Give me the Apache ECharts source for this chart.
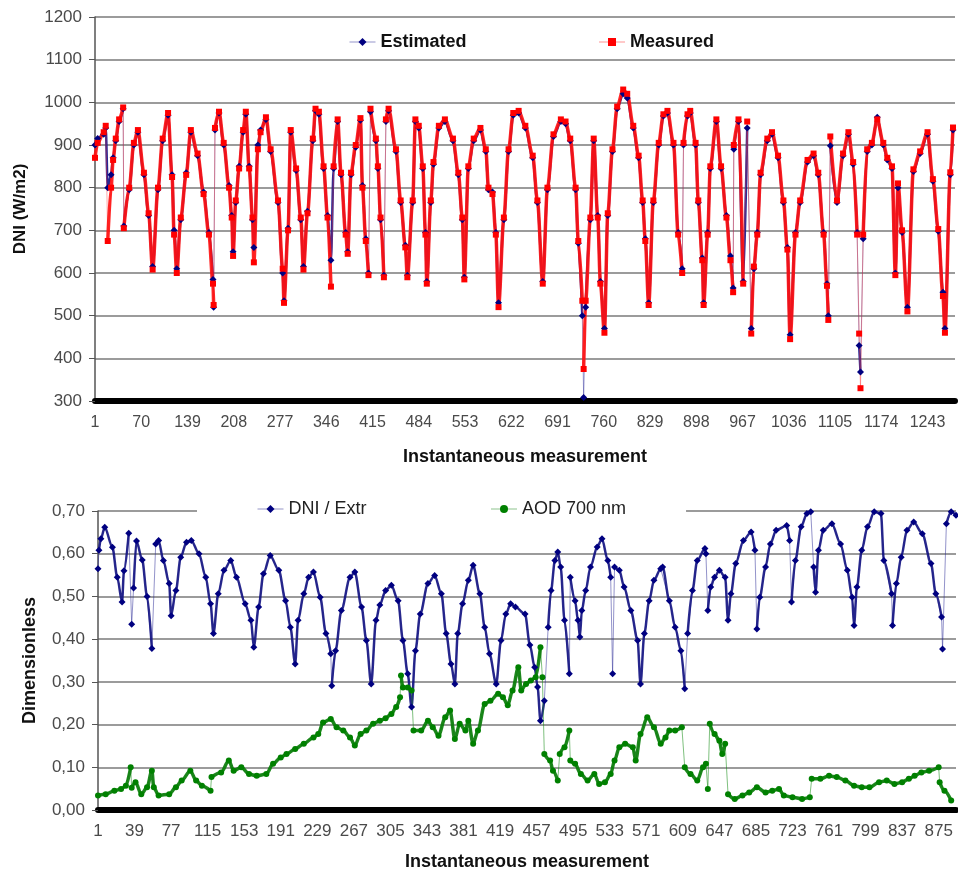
<!DOCTYPE html>
<html>
<head>
<meta charset="utf-8">
<script src="https://cdn.jsdelivr.net/npm/echarts@6/dist/echarts.min.js"></script>
<style>
html,body{margin:0;padding:0;background:#fff;}
#chart{width:958px;height:877px;}
</style>
</head>
<body>
<div id="chart"></div>
<script>
// ---------- Top chart: DNI (W/m2) ----------
const topCount = 1284;
const topTickLabels = ['1','70','139','208','277','346','415','484','553','622','691','760','829','898','967','1036','1105','1174','1243'];
const topYTicks = [300, 1200, 100];

const measuredDNI = [[1,870],[5,905],[14,930],[17,945],[20,675],[25,800],[28,865],[32,915],[37,960],[43,988],[44,705],[52,800],[59,905],[65,935],[74,835],[81,740],[87,608],[95,800],[102,915],[110,975],[116,825],[119,690],[123,600],[129,730],[137,830],[144,935],[154,880],[163,785],[171,690],[177,575],[178,525],[180,940],[186,978],[193,905],[201,800],[205,730],[207,640],[211,770],[216,845],[222,935],[226,978],[231,845],[236,730],[238,625],[244,890],[248,930],[256,965],[263,890],[274,770],[281,610],[283,530],[289,700],[293,935],[301,845],[308,730],[312,608],[318,740],[326,915],[330,985],[335,978],[342,850],[348,730],[353,568],[357,850],[363,960],[368,835],[375,690],[378,645],[383,835],[390,900],[397,963],[400,800],[405,675],[409,595],[412,985],[420,915],[423,850],[427,730],[432,590],[435,960],[439,985],[450,890],[457,770],[464,660],[467,590],[475,770],[479,960],[484,945],[490,850],[494,690],[496,575],[502,770],[506,860],[514,945],[523,960],[535,915],[543,835],[549,730],[552,585],[558,850],[566,915],[576,940],[584,890],[588,800],[594,785],[599,690],[603,520],[611,730],[618,890],[625,975],[633,980],[643,945],[654,875],[661,770],[669,575],[676,800],[685,925],[696,960],[703,955],[710,915],[718,800],[722,675],[728,535],[730,375],[733,535],[740,730],[745,915],[751,730],[755,575],[761,460],[766,740],[773,890],[780,990],[789,1030],[795,1020],[804,945],[812,875],[818,770],[822,675],[827,525],[834,770],[842,905],[849,972],[855,980],[864,905],[871,690],[877,600],[879,905],[885,972],[889,980],[897,905],[901,770],[907,630],[909,525],[915,690],[919,850],[928,960],[935,850],[943,730],[949,630],[953,555],[954,900],[961,960],[968,575],[974,955],[980,458],[984,615],[989,690],[994,835],[1004,915],[1011,930],[1020,875],[1028,770],[1034,655],[1038,445],[1046,690],[1053,770],[1064,865],[1073,880],[1080,835],[1088,690],[1093,570],[1095,490],[1098,920],[1108,770],[1117,880],[1125,930],[1132,860],[1138,690],[1141,458],[1143,330],[1147,690],[1153,890],[1160,905],[1168,960],[1177,905],[1183,870],[1190,850],[1195,595],[1199,810],[1205,700],[1213,510],[1222,843],[1232,885],[1243,930],[1251,820],[1259,703],[1266,546],[1269,460],[1277,836],[1281,941]];

const estimatedDNI = [[1,900],[5,915],[14,925],[17,940],[20,800],[25,830],[28,870],[32,910],[37,955],[43,985],[44,710],[52,795],[59,900],[65,930],[74,830],[81,735],[87,615],[95,795],[102,910],[110,970],[116,830],[119,700],[123,610],[129,725],[137,835],[144,930],[154,875],[163,790],[171,695],[177,585],[178,520],[180,935],[186,975],[193,900],[201,805],[205,735],[207,650],[211,765],[216,850],[222,930],[226,972],[231,850],[236,725],[238,660],[244,900],[248,935],[256,960],[263,885],[274,765],[281,600],[283,535],[289,705],[293,930],[301,840],[308,725],[312,615],[318,745],[326,910],[330,980],[335,972],[342,845],[348,735],[353,630],[357,845],[363,955],[368,830],[375,695],[378,650],[383,830],[390,895],[397,958],[400,805],[405,680],[409,600],[412,978],[420,910],[423,845],[427,725],[432,595],[435,955],[439,980],[450,885],[457,765],[464,665],[467,595],[475,765],[479,955],[484,940],[490,845],[494,695],[496,580],[502,765],[506,855],[514,940],[523,955],[535,910],[543,830],[549,725],[552,590],[558,845],[566,910],[576,935],[584,885],[588,795],[594,790],[599,695],[603,530],[611,725],[618,885],[625,970],[633,975],[643,940],[654,870],[661,765],[669,580],[676,795],[685,920],[696,955],[703,950],[710,910],[718,795],[722,670],[728,500],[730,308],[733,520],[740,725],[745,910],[751,735],[755,580],[761,470],[766,735],[773,885],[780,985],[789,1020],[795,1010],[804,940],[812,870],[818,765],[822,680],[827,530],[834,765],[842,900],[849,968],[855,975],[864,900],[871,695],[877,610],[879,900],[885,968],[889,975],[897,900],[901,765],[907,635],[909,530],[915,695],[919,845],[928,955],[935,845],[943,735],[949,640],[953,565],[954,890],[961,955],[968,580],[974,940],[980,470],[984,610],[989,695],[994,830],[1004,910],[1011,925],[1020,870],[1028,765],[1034,660],[1038,455],[1046,695],[1053,765],[1064,860],[1073,875],[1080,830],[1088,695],[1093,575],[1095,500],[1098,898],[1108,765],[1117,875],[1125,925],[1132,855],[1138,695],[1141,430],[1143,368],[1147,680],[1153,885],[1160,900],[1168,965],[1177,900],[1183,865],[1190,845],[1195,600],[1199,800],[1205,695],[1213,520],[1222,838],[1232,880],[1243,925],[1251,815],[1259,698],[1266,555],[1269,470],[1277,830],[1281,935]];

// ---------- Bottom chart: Dimensionless ----------
const bottomCount = 893;
const bottomTickLabels = ['1','39','77','115','153','191','229','267','305','343','381','419','457','495','533','571','609','647','685','723','761','799','837','875'];
const bottomYTicks = [0, 0.7, 0.1];

const dniExtr = [[1,0.565],[2,0.608],[4,0.635],[8,0.662],[16,0.615],[21,0.545],[26,0.487],[28,0.56],[33,0.648],[36,0.435],[38,0.52],[41,0.63],[47,0.585],[52,0.50],[57,0.378],[61,0.623],[64,0.631],[69,0.584],[75,0.53],[77,0.455],[82,0.514],[87,0.592],[93,0.627],[98,0.631],[106,0.60],[113,0.545],[118,0.483],[121,0.413],[126,0.506],[132,0.561],[139,0.584],[145,0.545],[154,0.483],[160,0.444],[163,0.381],[168,0.475],[173,0.553],[180,0.596],[189,0.561],[196,0.49],[201,0.428],[206,0.342],[209,0.444],[215,0.506],[220,0.545],[225,0.557],[232,0.498],[238,0.413],[243,0.366],[244,0.291],[248,0.373],[254,0.467],[263,0.545],[268,0.557],[275,0.475],[280,0.397],[285,0.295],[290,0.444],[294,0.48],[300,0.514],[306,0.526],[313,0.49],[318,0.397],[323,0.319],[327,0.241],[331,0.373],[336,0.459],[344,0.53],[351,0.549],[358,0.506],[363,0.413],[368,0.342],[372,0.295],[375,0.413],[380,0.483],[386,0.538],[391,0.573],[398,0.506],[403,0.428],[408,0.366],[415,0.295],[420,0.397],[425,0.459],[430,0.483],[435,0.475],[445,0.459],[450,0.386],[455,0.334],[458,0.288],[461,0.209],[465,0.256],[469,0.428],[472,0.514],[476,0.584],[479,0.604],[482,0.569],[486,0.444],[491,0.319],[492,0.545],[497,0.49],[500,0.444],[502,0.405],[504,0.467],[508,0.514],[513,0.569],[520,0.616],[525,0.635],[531,0.584],[534,0.545],[536,0.319],[538,0.569],[543,0.561],[548,0.522],[555,0.467],[562,0.397],[565,0.295],[569,0.413],[574,0.49],[579,0.538],[586,0.565],[588,0.569],[595,0.49],[601,0.428],[607,0.373],[611,0.284],[614,0.413],[619,0.514],[624,0.584],[632,0.612],[633,0.6],[635,0.467],[638,0.522],[642,0.545],[647,0.561],[653,0.545],[656,0.444],[659,0.506],[664,0.577],[672,0.631],[680,0.651],[684,0.608],[686,0.424],[689,0.498],[695,0.569],[700,0.623],[706,0.655],[717,0.666],[720,0.631],[722,0.487],[726,0.584],[732,0.663],[738,0.694],[742,0.698],[745,0.569],[747,0.51],[750,0.608],[755,0.655],[764,0.67],[773,0.623],[780,0.561],[785,0.498],[787,0.432],[790,0.522],[795,0.608],[801,0.663],[808,0.698],[815,0.694],[818,0.584],[826,0.506],[827,0.432],[831,0.53],[836,0.592],[842,0.655],[849,0.674],[858,0.647],[867,0.577],[872,0.506],[878,0.452],[879,0.377],[883,0.67],[888,0.698],[893,0.69]];

const aod700 = [[1,0.034],[9,0.037],[18,0.045],[25,0.049],[30,0.057],[35,0.10],[36,0.052],[40,0.065],[46,0.037],[52,0.053],[57,0.092],[59,0.053],[64,0.034],[75,0.037],[82,0.053],[88,0.069],[97,0.092],[103,0.069],[109,0.057],[118,0.045],[119,0.077],[129,0.088],[137,0.116],[142,0.092],[150,0.10],[158,0.084],[166,0.08],[176,0.084],[183,0.108],[191,0.123],[197,0.131],[206,0.143],[215,0.155],[225,0.17],[230,0.178],[235,0.205],[243,0.213],[249,0.194],[256,0.186],[263,0.17],[268,0.151],[274,0.178],[280,0.186],[287,0.202],[294,0.209],[300,0.215],[306,0.225],[311,0.241],[315,0.264],[316,0.315],[318,0.287],[323,0.287],[327,0.28],[329,0.186],[337,0.186],[344,0.209],[349,0.194],[355,0.174],[362,0.217],[367,0.233],[372,0.166],[377,0.202],[383,0.186],[386,0.209],[391,0.155],[396,0.186],[403,0.248],[409,0.256],[417,0.272],[422,0.264],[427,0.245],[432,0.28],[438,0.334],[441,0.28],[446,0.295],[451,0.303],[456,0.311],[461,0.381],[463,0.311],[465,0.131],[471,0.116],[474,0.092],[479,0.069],[481,0.131],[486,0.147],[491,0.186],[492,0.116],[497,0.108],[503,0.084],[510,0.069],[517,0.084],[522,0.061],[528,0.065],[534,0.084],[538,0.116],[543,0.147],[549,0.155],[557,0.147],[560,0.116],[565,0.178],[572,0.217],[579,0.194],[586,0.155],[591,0.17],[595,0.186],[601,0.186],[608,0.194],[611,0.10],[617,0.084],[624,0.069],[630,0.10],[633,0.108],[635,0.049],[637,0.202],[642,0.178],[647,0.162],[650,0.131],[653,0.155],[656,0.037],[663,0.026],[671,0.034],[678,0.041],[686,0.053],[695,0.041],[702,0.045],[709,0.049],[714,0.034],[723,0.03],[733,0.026],[741,0.03],[743,0.073],[752,0.073],[761,0.08],[769,0.077],[778,0.069],[787,0.057],[795,0.053],[803,0.053],[813,0.065],[821,0.069],[829,0.061],[837,0.065],[844,0.073],[850,0.08],[857,0.088],[865,0.092],[875,0.10],[876,0.065],[881,0.045],[888,0.022]];

// ---------- build ----------
const topCategories = Array.from({length: topCount}, (_, i) => String(i + 1));
const bottomCategories = Array.from({length: bottomCount}, (_, i) => String(i + 1));
const toZero = p => [p[0] - 1, p[1]];
// Same points; a gap is left on steep jumps so that those are drawn only by the thin line.
function arches(data, thr) {
  const out = [];
  data.forEach((p, i) => {
    if (i > 0) {
      const a = data[i - 1];
      const slope = Math.abs(p[1] - a[1]) / Math.max(1, p[0] - a[0]);
      if (slope > thr) out.push([a[0] - 1, null]);
    }
    out.push([p[0] - 1, p[1]]);
  });
  return out;
}

const FONT = '"Liberation Sans", Arial, sans-serif';
const gridLine = {show: true, lineStyle: {color: '#7a7a7a', width: 1.5}};
const tickLabel = {color: '#4a4a4a', fontFamily: FONT};

function thin(name, data, xi, color) {
  return {name, type: 'line', xAxisIndex: xi, yAxisIndex: xi, data: data.map(toZero),
    showSymbol: false, silent: true, lineStyle: {color, width: 1}};
}
function thick(name, data, xi, thr, sym, size, color, lineColor, width) {
  return {name, type: 'line', xAxisIndex: xi, yAxisIndex: xi, data: arches(data, thr),
    symbol: sym, symbolSize: size, showAllSymbol: true, connectNulls: false,
    smooth: 0.3, smoothMonotone: 'x',
    itemStyle: {color}, lineStyle: {color: lineColor, width}};
}

const chart = echarts.init(document.getElementById('chart'), null, {renderer: 'canvas'});
chart.setOption({
  animation: false,
  backgroundColor: '#ffffff',
  textStyle: {fontFamily: FONT},
  grid: [
    {left: 95, right: 3, top: 17, height: 384},
    {left: 98, right: 2, top: 511, height: 299}
  ],
  legend: [
    {
      data: ['Estimated', 'Measured'],
      left: 349, top: 33, padding: 0, itemGap: 132,
      itemWidth: 26, itemHeight: 10,
      lineStyle: {width: 1, opacity: 0.5},
      textStyle: {fontSize: 18, fontWeight: 'bold', color: '#111', fontFamily: FONT}
    },
    {
      data: ['DNI / Extr', 'AOD 700 nm'],
      left: 197, top: 498, padding: [2, 60, 2, 60], itemGap: 124,
      backgroundColor: '#ffffff',
      itemWidth: 26, itemHeight: 10,
      lineStyle: {width: 1, opacity: 0.5},
      textStyle: {fontSize: 18, color: '#222', fontFamily: FONT}
    }
  ],
  xAxis: [
    {
      gridIndex: 0, type: 'category', data: topCategories, boundaryGap: false,
      axisLine: {lineStyle: {color: '#000', width: 6}},
      axisTick: {show: false},
      axisLabel: Object.assign({fontSize: 16, margin: 14,
        interval: (i, v) => topTickLabels.includes(v)}, tickLabel),
      splitLine: {show: false},
      name: 'Instantaneous measurement', nameLocation: 'middle', nameGap: 47,
      nameTextStyle: {fontSize: 18, fontWeight: 'bold', color: '#111', fontFamily: FONT}
    },
    {
      gridIndex: 1, type: 'category', data: bottomCategories, boundaryGap: false,
      axisLine: {lineStyle: {color: '#000', width: 6}},
      axisTick: {show: false},
      axisLabel: Object.assign({fontSize: 17, margin: 13,
        interval: (i, v) => bottomTickLabels.includes(v)}, tickLabel),
      splitLine: {show: false},
      name: 'Instantaneous measurement', nameLocation: 'middle', nameGap: 43,
      nameTextStyle: {fontSize: 18, fontWeight: 'bold', color: '#111', fontFamily: FONT}
    }
  ],
  yAxis: [
    {
      gridIndex: 0, type: 'value', min: topYTicks[0], max: topYTicks[1], interval: topYTicks[2],
      axisLine: {show: true, lineStyle: {color: '#555', width: 1.5}},
      axisTick: {show: true, length: 6, lineStyle: {color: '#555'}},
      axisLabel: Object.assign({fontSize: 17, margin: 13, formatter: v => String(v)}, tickLabel),
      splitLine: gridLine,
      name: 'DNI (W/m2)', nameLocation: 'middle', nameGap: 66,
      nameTextStyle: {fontSize: 17, fontWeight: 'bold', color: '#111', fontFamily: FONT}
    },
    {
      gridIndex: 1, type: 'value', min: bottomYTicks[0], max: bottomYTicks[1], interval: bottomYTicks[2],
      axisLine: {show: true, lineStyle: {color: '#555', width: 1.5}},
      axisTick: {show: true, length: 6, lineStyle: {color: '#555'}},
      axisLabel: Object.assign({fontSize: 17, margin: 13,
        formatter: v => v.toFixed(2).replace('.', ',')}, tickLabel),
      splitLine: gridLine,
      name: 'Dimensionless', nameLocation: 'middle', nameGap: 59,
      nameTextStyle: {fontSize: 18, fontWeight: 'bold', color: '#111', fontFamily: FONT}
    }
  ],
  series: [
    thin('est-thin', estimatedDNI, 0, 'rgba(40,40,150,0.45)'),
    thick('Estimated', estimatedDNI, 0, 60, 'diamond', 7, '#000080', 'rgba(20,20,140,0.9)', 2.5),
    thin('meas-thin', measuredDNI, 0, 'rgba(255,60,60,0.45)'),
    thick('Measured', measuredDNI, 0, 60, 'rect', 6, '#ff0000', 'rgba(255,15,15,0.9)', 3.5),
    thin('dni-thin', dniExtr, 1, 'rgba(40,40,150,0.5)'),
    thick('DNI / Extr', dniExtr, 1, 0.04, 'diamond', 7, '#000080', 'rgba(20,20,130,0.9)', 2.5),
    thin('aod-thin', aod700, 1, 'rgba(20,140,20,0.55)'),
    thick('AOD 700 nm', aod700, 1, 0.02, 'circle', 6, '#008000', 'rgba(10,125,10,0.92)', 3.5)
  ]
});
</script>
</body>
</html>
